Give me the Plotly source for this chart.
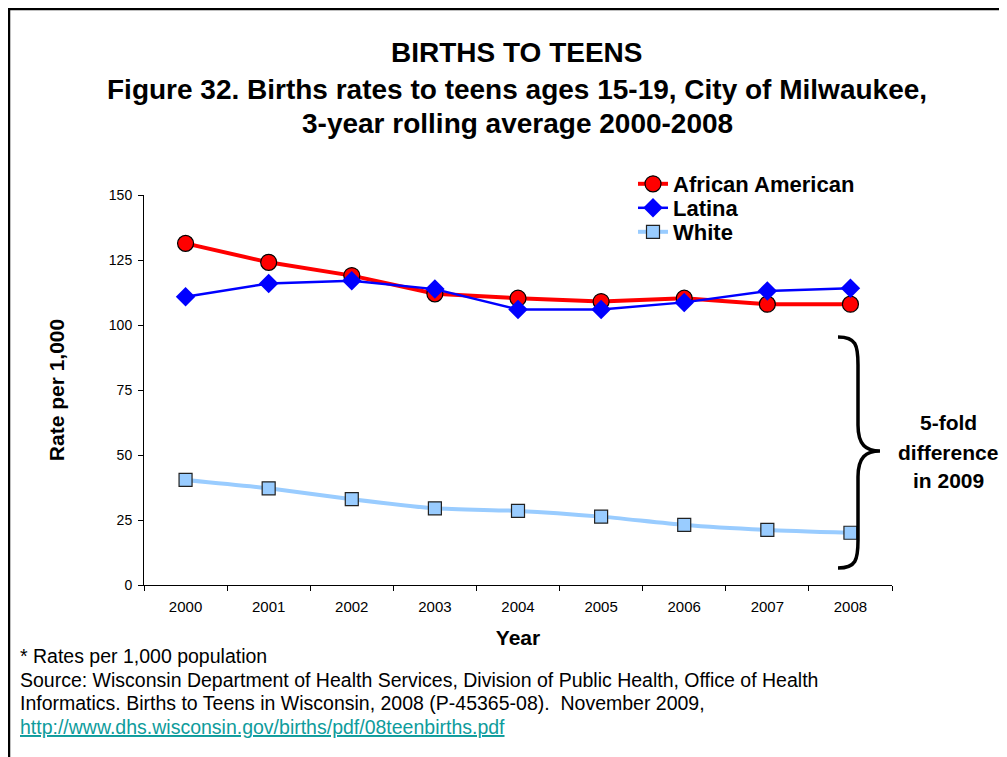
import plotly.graph_objects as go

years = ["2000", "2001", "2002", "2003", "2004", "2005", "2006", "2007", "2008"]
african_american = [131.4, 124.1, 119.0, 112.0, 110.3, 109.0, 110.3, 108.0, 108.0]
latina = [110.9, 116.0, 117.0, 113.8, 106.0, 106.0, 108.7, 113.1, 114.1]
white = [40.4, 37.2, 33.0, 29.5, 28.5, 26.3, 23.1, 21.2, 20.1]
y_ticks = [0, 25, 50, 75, 100, 125, 150]

FONT = "Liberation Sans, Arial, sans-serif"

# page body adds an 8px margin, so the figure is shrunk and positions shifted
OFF = 8
# plot area in page pixels
L, R, T, B = 144, 892, 195, 585
W, H = 1007 - OFF, 757 - OFF


def px(x):
    return (x - L) / (R - L)


def py(y):
    return (B - y) / (B - T)


fig = go.Figure()
fig.add_trace(go.Scatter(
    x=years, y=african_american, name="African American", mode="lines+markers", legend="legend",
    line=dict(color="#ff0000", width=4),
    marker=dict(symbol="circle", size=16, color="#ff0000", line=dict(color="black", width=1.2)),
))
fig.add_trace(go.Scatter(
    x=years, y=latina, name="Latina", mode="lines+markers", legend="legend2",
    line=dict(color="#0000ff", width=2.5),
    marker=dict(symbol="diamond", size=15, color="#0000ff", line=dict(color="#0000ff", width=0)),
))
fig.add_trace(go.Scatter(
    x=years, y=white, name="White", mode="lines+markers", legend="legend3",
    line=dict(color="#99ccff", width=4, shape="spline", smoothing=0.6),
    marker=dict(symbol="square", size=13, color="#99ccff", line=dict(color="#222222", width=1.2)),
))

leg = dict(xanchor="left", yanchor="middle", bgcolor="rgba(0,0,0,0)",
           font=dict(size=22, family=FONT, weight="bold"))
fig.update_layout(
    width=W, height=H,
    margin=dict(l=L - OFF, r=1007 - R, t=T - OFF, b=757 - B),
    paper_bgcolor="white", plot_bgcolor="white",
    font=dict(family=FONT, color="black"),
    showlegend=True,
    legend=dict(x=px(633), y=py(184), **leg),
    legend2=dict(x=px(633), y=py(208), **leg),
    legend3=dict(x=px(633), y=py(232), **leg),
)
fig.update_xaxes(
    type="category", range=[-0.5, 8.5], tickson="boundaries",
    showline=True, linecolor="black", linewidth=1,
    ticks="outside", ticklen=5, tickcolor="black", ticklabelstandoff=8,
    tickfont=dict(size=15), showgrid=False, zeroline=False,
    title=dict(text="<b>Year</b>", font=dict(size=21), standoff=16),
)
fig.update_yaxes(
    range=[0, 150], tickvals=y_ticks,
    showline=True, linecolor="black", linewidth=1,
    ticks="outside", ticklen=5, tickcolor="black", ticklabelstandoff=3,
    tickfont=dict(size=14), showgrid=False, zeroline=False,
    title=dict(text="<b>Rate per 1,000</b>", font=dict(size=21), standoff=38),
)

# titles
titles = [("BIRTHS TO TEENS", 52),
          ("Figure 32. Births rates to teens ages 15-19, City of Milwaukee,", 89),
          ("3-year rolling average 2000-2008", 124)]
for txt, yy in titles:
    fig.add_annotation(text="<b>" + txt + "</b>", x=px(517), y=py(yy), xref="paper", yref="paper",
                       xanchor="center", yanchor="middle", showarrow=False,
                       font=dict(size=28, family=FONT))

# brace annotation
for txt, yy in [("5-fold", 422), ("difference", 452), ("in 2009", 480)]:
    fig.add_annotation(text="<b>" + txt + "</b>", x=px(948), y=py(yy), xref="paper", yref="paper",
                       xanchor="center", yanchor="middle", showarrow=False,
                       font=dict(size=21, family=FONT))

brace = (f"M {px(838)},{py(337)} C {px(856)},{py(337)} {px(858)},{py(345)} {px(858)},{py(365)} "
         f"L {px(858)},{py(425)} C {px(858)},{py(445)} {px(866)},{py(451)} {px(880)},{py(451)} "
         f"C {px(866)},{py(451)} {px(858)},{py(457)} {px(858)},{py(477)} "
         f"L {px(858)},{py(540)} C {px(858)},{py(560)} {px(856)},{py(568)} {px(838)},{py(568)}")
fig.add_shape(type="path", path=brace, xref="paper", yref="paper",
              line=dict(color="black", width=3.5))

# footnotes
notes = [("* Rates per 1,000 population", 656),
         ("Source: Wisconsin Department of Health Services, Division of Public Health, Office of Health", 680),
         ("Informatics. Births to Teens in Wisconsin, 2008 (P-45365-08).  November 2009,", 703),
         ("<u>http://www.dhs.wisconsin.gov/births/pdf/08teenbirths.pdf</u>", 727)]
for i, (txt, yy) in enumerate(notes):
    fig.add_annotation(text=txt, x=px(18), y=py(yy), xref="paper", yref="paper",
                       xanchor="left", yanchor="middle", showarrow=False,
                       font=dict(size=19.5, family=FONT, color="#0e9c9c" if i == 3 else "black"))

# slide frame
fig.add_shape(type="line", xref="paper", yref="paper", x0=px(9), x1=px(9), y0=py(8), y1=py(770),
              line=dict(color="black", width=2.5))
fig.add_shape(type="line", xref="paper", yref="paper", x0=px(8), x1=px(1020), y0=py(9), y1=py(9),
              line=dict(color="black", width=2.5))

fig.write_html("out.html")
